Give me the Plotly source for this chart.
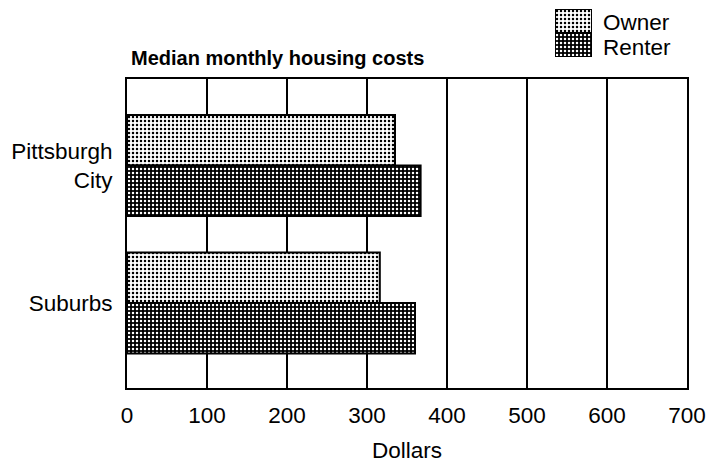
import plotly.graph_objects as go

# ---- data ----
categories = ["Pittsburgh<br>City", "Suburbs"]
series_names = ["Owner", "Renter"]
owner_costs = [335, 316]
renter_costs = [367, 360]
x_ticks = [0, 100, 200, 300, 400, 500, 600, 700]
chart_title = "Median monthly housing costs"
x_title = "Dollars"

W, H = 711, 463
FONT = "Liberation Sans, Arial, Helvetica, sans-serif"
FS = 22.5

styles = {
    "Owner": dict(fg="black", bg="white", solidity=0.3),
    "Renter": dict(fg="white", bg="black", solidity=0.3),
}

fig = go.Figure()
for name, vals in zip(series_names, [owner_costs, renter_costs]):
    st = styles[name]
    fig.add_trace(go.Bar(
        name=name, x=vals, y=categories, orientation="h",
        marker=dict(color=st["bg"],
                    line=dict(color="black", width=2),
                    pattern=dict(shape=".", fgcolor=st["fg"], bgcolor=st["bg"],
                                 size=4, solidity=st["solidity"], fillmode="replace")),
        showlegend=False, hoverinfo="x+y",
    ))

# custom legend keys (stacked swatches) on a small helper axis
for name in series_names:
    st = styles[name]
    fig.add_trace(go.Bar(
        x=[1], y=[name], orientation="h", xaxis="x2", yaxis="y2",
        width=1, offset=-0.5,
        marker=dict(color=st["bg"],
                    line=dict(color="black", width=2),
                    pattern=dict(shape=".", fgcolor=st["fg"], bgcolor=st["bg"],
                                 size=4, solidity=st["solidity"], fillmode="replace")),
        showlegend=False, hoverinfo="skip",
    ))

x0, x1 = 127, 687
yt, yb = 79, 388

fig.update_layout(
    width=W, height=H,
    margin=dict(l=0, r=0, t=0, b=0),
    paper_bgcolor="white", plot_bgcolor="white",
    font=dict(family=FONT, size=FS, color="black"),
    barmode="group", bargap=0.265, bargroupgap=0,
    showlegend=False,
    xaxis=dict(
        domain=[x0 / W, x1 / W], range=[0, 700], tickvals=x_ticks,
        showgrid=True, gridcolor="black", gridwidth=2,
        showline=True, linecolor="black", linewidth=2, mirror=True,
        zeroline=False, ticks="", ticklabelstandoff=6,
        tickfont=dict(size=FS), automargin=False,
        title=dict(text=x_title, font=dict(size=FS), standoff=15),
        fixedrange=True,
    ),
    yaxis=dict(
        domain=[(H - yb) / H, (H - yt) / H],
        type="category", categoryorder="array", categoryarray=categories,
        range=[1.618, -0.629],
        showgrid=False, showline=True, linecolor="black", linewidth=2, mirror=True,
        zeroline=False, ticks="", ticklabelstandoff=8,
        tickfont=dict(size=FS), automargin=False, fixedrange=True,
    ),
    xaxis2=dict(domain=[555 / W, 592 / W], range=[0, 1], visible=False,
                anchor="y2", fixedrange=True),
    yaxis2=dict(domain=[(H - 57) / H, (H - 9) / H], type="category",
                categoryorder="array", categoryarray=series_names[::-1],
                range=[-0.5, 1.5], visible=False, anchor="x2", fixedrange=True),
)

annotations = [
    dict(text="<b>" + chart_title + "</b>", x=129 / W, y=1 - 58 / H,
         xref="paper", yref="paper", xanchor="left", yanchor="middle",
         showarrow=False, font=dict(size=20)),
]
for i, name in enumerate(series_names):
    annotations.append(dict(
        text=name, x=601 / W, y=1 - (22 + 25 * i) / H,
        xref="paper", yref="paper", xanchor="left", yanchor="middle",
        showarrow=False, font=dict(size=FS)))
fig.update_layout(annotations=annotations)

fig.write_html("out.html", config={"displayModeBar": False},
               post_script="document.body.style.margin='0';document.body.style.overflow='hidden';")
